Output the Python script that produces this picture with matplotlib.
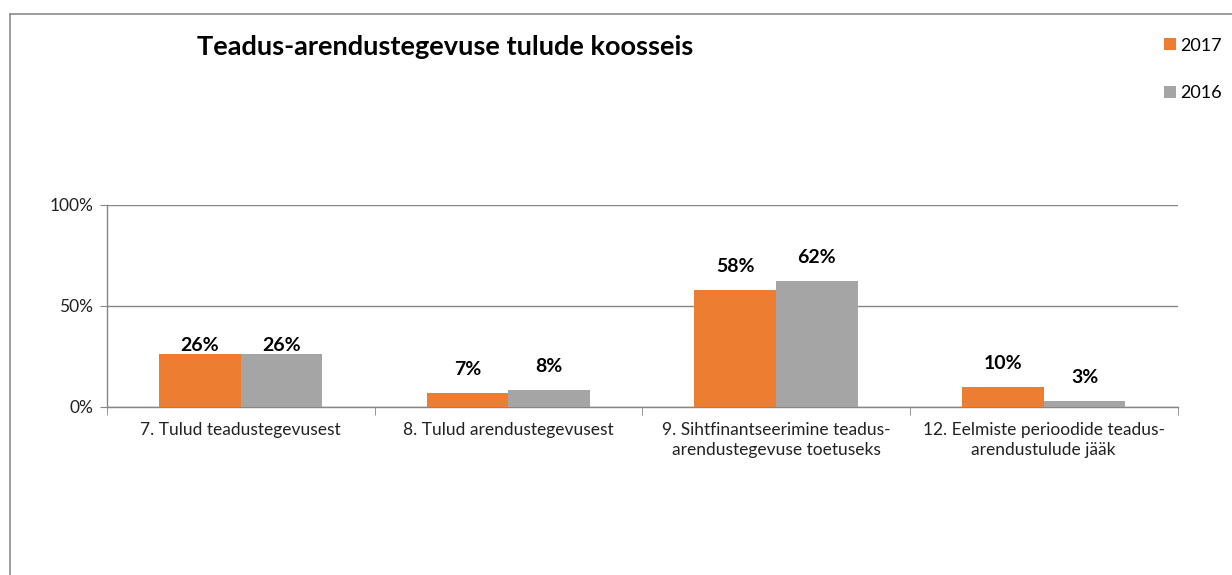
import matplotlib.pyplot as plt
import numpy as np
from matplotlib.lines import Line2D

CATEGORIES = [
    "7. Tulud teadustegevusest",
    "8. Tulud arendustegevusest",
    "9. Sihtfinantseerimine teadus-\narendustegevuse toetuseks",
    "12. Eelmiste perioodide teadus-\narendustulude jääk",
]
SERIES = ["2017", "2016"]
VALUES_2017 = [0.26, 0.069, 0.579, 0.099]
VALUES_2016 = [0.26, 0.084, 0.625, 0.03]
COLORS = ["#ed7d31", "#a5a5a5"]

plt.rcParams["font.family"] = ["Lato", "DejaVu Sans"]


def main():
    fig = plt.figure(figsize=(12.32, 5.75), dpi=100)
    ax = fig.add_axes([0.0868, 0.2922, 0.869, 0.3513])

    x = np.arange(len(CATEGORIES))
    w = 0.305
    # label centre offsets in points (Excel put the first pair lower)
    pads = [[6.5, 6.5], [17, 17], [17, 17], [17, 17]]
    for i, (vals, col, name) in enumerate(zip([VALUES_2017, VALUES_2016], COLORS, SERIES)):
        pos = x + (i - 0.5) * w
        bars = ax.bar(pos, vals, width=w, color=col, label=name, zorder=3)
        for j, (b, v) in enumerate(zip(bars, vals)):
            ax.annotate(f"{v:.0%}", (b.get_x() + b.get_width() / 2, v),
                        xytext=(0, pads[j][i]), textcoords="offset points",
                        ha="center", va="center", fontsize=14, fontweight="bold",
                        color="#000000", zorder=4)

    ax.set_xlim(-0.5, len(CATEGORIES) - 0.5)
    ax.set_ylim(0, 1)
    ax.set_yticks([0, 0.5, 1])
    ax.set_yticklabels(["0%", "50%", "100%"], fontsize=12.5, color="#222222")
    ax.set_xticks(x)
    ax.set_xticklabels(CATEGORIES, fontsize=12.5, color="#222222", linespacing=1.25)
    ax.tick_params(axis="x", length=0, pad=11)
    ax.tick_params(axis="y", length=5, color="#868686", pad=5)
    ax.set_xticks(np.arange(len(CATEGORIES) + 1) - 0.5, minor=True)
    ax.tick_params(axis="x", which="minor", length=6, color="#868686")
    ax.grid(True, axis="y", color="#868686", linewidth=1, zorder=0)
    for s in ["top", "right"]:
        ax.spines[s].set_visible(False)
    for s in ["left", "bottom"]:
        ax.spines[s].set_color("#868686")
        ax.spines[s].set_linewidth(1)

    fig.text(0.3612, 0.918, "Teadus-arendustegevuse tulude koosseis", ha="center", va="center",
             fontsize=19.5, fontweight="bold", color="#000000")

    fig.legend(loc="upper left", bbox_to_anchor=(0.939, 0.947), frameon=False,
               handlelength=0.65, handleheight=0.65, handletextpad=0.25,
               labelspacing=1.75, fontsize=13, borderaxespad=0)

    fig.add_artist(Line2D([10 / 1232, 1.0], [1 - 14 / 575] * 2, transform=fig.transFigure,
                          color="#8c8c8c", linewidth=1.2))
    fig.add_artist(Line2D([10 / 1232] * 2, [0, 1 - 14 / 575], transform=fig.transFigure,
                          color="#8c8c8c", linewidth=1.2))

    fig.savefig("out.png", dpi=100)
    plt.close(fig)


if __name__ == "__main__":
    main()
